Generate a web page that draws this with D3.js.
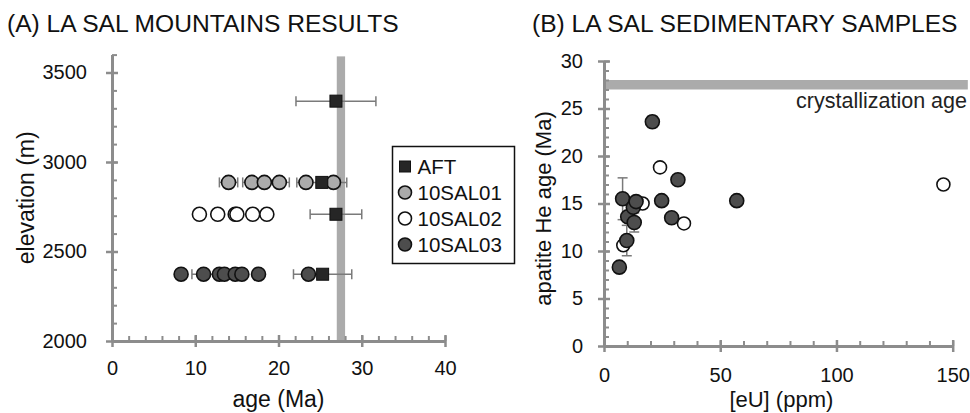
<!DOCTYPE html>
<html>
<head>
<meta charset="utf-8">
<script src="https://cdn.jsdelivr.net/npm/d3@7"></script>
<style>
  body { margin: 0; background: #fff; }
  svg { font-family: "Liberation Sans", Arial, sans-serif; }
</style>
</head>
<body>
<div id="chart"></div>
<script>
// ---- data (panel A) ----
const aftElev = [3340, 2886, 2708, 2373];
const aftAge = [26.9, 25.2, 26.9, 25.3];
const aftErr = [4.8, 3.0, 3.1, 3.5];

const sal01Elev = 2886;
const sal01Age = [14.0, 16.8, 18.3, 20.1, 23.3, 26.6];
const sal01Err = [1.1, 1.1, 0, 1.2, 0.5, 0.8];

const sal02Elev = 2708;
const sal02Age = [10.5, 12.7, 14.8, 15.0, 16.9, 18.6];

const sal03Elev = 2373;
const sal03Age = [8.3, 11.0, 12.9, 13.5, 14.8, 15.6, 17.6, 23.6];
const sal03Err = [0, 1.4, 0, 0, 0, 0, 0, 0];

const crystAge = [27, 28];

// ---- data (panel B) ----
const darkEU = [6.6, 8.0, 9.8, 10.2, 12.6, 13.0, 13.8, 20.8, 24.8, 29.1, 31.8, 57.1];
const darkHe = [8.3, 15.5, 11.1, 13.6, 14.6, 13.0, 15.2, 23.6, 15.3, 13.5, 17.5, 15.3];
const darkErr = [0, 2.2, 1.6, 0, 0, 1.0, 0, 0.6, 0, 0, 0, 0.5];

const openEU = [8.3, 16.6, 24.1, 34.4, 146];
const openHe = [10.6, 15.0, 18.8, 12.9, 17.0];

const legendLabels = ["AFT", "10SAL01", "10SAL02", "10SAL03"];
const ageTicks = [0, 10, 20, 30, 40];
const elevTicks = [2000, 2500, 3000, 3500];
const euTicks = [0, 50, 100, 150];
const heTicks = [0, 5, 10, 15, 20, 25, 30];

const axisColor = "#8c8c8c";
const errColor = "#7a7a7a";
const fill01 = "#ababab", fill02 = "#ffffff", fill03 = "#4d4d4d", fillAft = "#262626";

const svg = d3.select("#chart").append("svg")
  .attr("width", 970)
  .attr("height", 413);

// titles
svg.append("text").attr("x", 7).attr("y", 32)
  .style("font-size", "24.6px").attr("fill", "#111")
  .text("(A) LA SAL MOUNTAINS RESULTS");
svg.append("text").attr("x", 532).attr("y", 32)
  .style("font-size", "24.6px").attr("fill", "#111")
  .text("(B) LA SAL SEDIMENTARY SAMPLES");

// helper: axes with crossing major ticks and inside minor ticks
function drawAxes(x, y, xMajor, xMinor, yMajor, yMinor, xLabOff, yLabOff) {
  const x0 = x.range()[0], y0 = y.range()[0];

  // minor ticks (inside)
  svg.append("g")
    .attr("transform", `translate(${x0},0)`)
    .call(d3.axisRight(y).tickValues(yMinor).tickSize(5).tickFormat(""))
    .call(g => g.select(".domain").remove())
    .selectAll("line").attr("stroke", axisColor).attr("stroke-width", 2);
  svg.append("g")
    .attr("transform", `translate(0,${y0})`)
    .call(d3.axisTop(x).tickValues(xMinor).tickSize(5).tickFormat(""))
    .call(g => g.select(".domain").remove())
    .selectAll("line").attr("stroke", axisColor).attr("stroke-width", 2);

  // y axis
  const gy = svg.append("g")
    .attr("transform", `translate(${x0},0)`)
    .call(d3.axisLeft(y).tickValues(yMajor).tickFormat(d3.format("d"))
      .tickSize(6).tickSizeOuter(0).tickPadding(yLabOff));
  gy.select(".domain").attr("stroke", axisColor).attr("stroke-width", 3);
  gy.selectAll(".tick line").attr("x1", 6).attr("x2", -6)
    .attr("stroke", axisColor).attr("stroke-width", 2.5);
  gy.selectAll(".tick text").style("font-size", "20px")
    .style("font-family", "Liberation Sans, Arial, sans-serif").attr("fill", "#111");

  // x axis
  const gx = svg.append("g")
    .attr("transform", `translate(0,${y0})`)
    .call(d3.axisBottom(x).tickValues(xMajor).tickFormat(d3.format("d"))
      .tickSize(6).tickSizeOuter(0).tickPadding(xLabOff));
  gx.select(".domain").attr("stroke", axisColor).attr("stroke-width", 3);
  gx.selectAll(".tick line").attr("y1", -6).attr("y2", 6)
    .attr("stroke", axisColor).attr("stroke-width", 2.5);
  gx.selectAll(".tick text").style("font-size", "20px")
    .style("font-family", "Liberation Sans, Arial, sans-serif").attr("fill", "#111");
}

// ================= Panel A =================
const xA = d3.scaleLinear().domain([0, 40]).range([112, 445]);
const yA = d3.scaleLinear().domain([2000, 3600]).range([341, 54.6]);

// crystallization band (vertical)
svg.append("rect")
  .attr("x", xA(crystAge[0]))
  .attr("y", yA(3590))
  .attr("width", xA(crystAge[1]) - xA(crystAge[0]))
  .attr("height", yA(2000) - yA(3590))
  .attr("fill", "#ababab");

drawAxes(xA, yA, ageTicks, d3.range(0, 41, 2), elevTicks, d3.range(2000, 3601, 100), 14, 19);

// axis labels
svg.append("text").attr("x", (xA(0) + xA(40)) / 2).attr("y", 407)
  .attr("text-anchor", "middle").style("font-size", "23px").attr("fill", "#111")
  .text("age (Ma)");
svg.append("text")
  .attr("transform", `translate(34,${(yA(2000) + yA(3600)) / 2}) rotate(-90)`)
  .attr("text-anchor", "middle").style("font-size", "23px").attr("fill", "#111")
  .text("elevation (m)");

// horizontal error bars
function hErr(age, elev, err) {
  if (!err) return;
  const g = svg.append("g").attr("stroke", errColor).attr("stroke-width", 1.5);
  const yy = yA(elev);
  g.append("line").attr("x1", xA(age - err)).attr("x2", xA(age + err)).attr("y1", yy).attr("y2", yy);
  [age - err, age + err].forEach(v => {
    g.append("line").attr("x1", xA(v)).attr("x2", xA(v)).attr("y1", yy - 5).attr("y2", yy + 5);
  });
}
sal01Age.forEach((a, i) => hErr(a, sal01Elev, sal01Err[i]));
sal03Age.forEach((a, i) => hErr(a, sal03Elev, sal03Err[i]));
aftAge.forEach((a, i) => hErr(a, aftElev[i], aftErr[i]));

function circlesA(ages, elev, fill) {
  svg.append("g").selectAll("circle")
    .data(ages)
    .join("circle")
    .attr("cx", d => xA(d))
    .attr("cy", yA(elev))
    .attr("r", 7)
    .attr("fill", fill)
    .attr("stroke", "#111")
    .attr("stroke-width", 1.6);
}
circlesA(sal02Age, sal02Elev, fill02);
circlesA(sal01Age, sal01Elev, fill01);
circlesA(sal03Age, sal03Elev, fill03);

svg.append("g").selectAll("rect")
  .data(aftAge)
  .join("rect")
  .attr("x", d => xA(d) - 6)
  .attr("y", (d, i) => yA(aftElev[i]) - 6)
  .attr("width", 12)
  .attr("height", 12)
  .attr("fill", fillAft)
  .attr("stroke", "#111")
  .attr("stroke-width", 1);

// legend
const legend = svg.append("g").attr("transform", "translate(392.5,146.5)");
legend.append("rect")
  .attr("width", 122).attr("height", 117)
  .attr("fill", "#fff").attr("stroke", "#111").attr("stroke-width", 1.5);
const legendFills = [fillAft, fill01, fill02, fill03];
legendLabels.forEach((lab, i) => {
  const cy = 20 + i * 26;
  if (i === 0) {
    legend.append("rect").attr("x", 7).attr("y", cy - 5.5).attr("width", 11).attr("height", 11)
      .attr("fill", fillAft).attr("stroke", "#111").attr("stroke-width", 1);
  } else {
    legend.append("circle").attr("cx", 12.5).attr("cy", cy).attr("r", 6.5)
      .attr("fill", legendFills[i]).attr("stroke", "#111").attr("stroke-width", 1.6);
  }
  legend.append("text").attr("x", 25).attr("y", cy + 7.5)
    .style("font-size", "20.5px").attr("fill", "#111").text(lab);
});

// ================= Panel B =================
const xB = d3.scaleLinear().domain([0, 150]).range([604, 952.7]);
const yB = d3.scaleLinear().domain([0, 30]).range([346, 61]);

// crystallization band (horizontal)
svg.append("rect")
  .attr("x", xB(0))
  .attr("y", yB(crystAge[1]))
  .attr("width", xB(156.5) - xB(0))
  .attr("height", yB(crystAge[0]) - yB(crystAge[1]))
  .attr("fill", "#ababab");

svg.append("text").attr("x", 967).attr("y", 108)
  .attr("text-anchor", "end").style("font-size", "21.5px").attr("fill", "#222")
  .text("crystallization age");

drawAxes(xB, yB, euTicks, d3.range(0, 151, 10), heTicks, d3.range(0, 31, 1), 16, 15);

svg.append("text").attr("x", (xB(0) + xB(150)) / 2 + 3).attr("y", 407)
  .attr("text-anchor", "middle").style("font-size", "22px").attr("fill", "#111")
  .text("[eU] (ppm)");
svg.append("text")
  .attr("transform", `translate(551,${(yB(0) + yB(30)) / 2 + 5}) rotate(-90)`)
  .attr("text-anchor", "middle").style("font-size", "22px").attr("fill", "#111")
  .text("apatite He age (Ma)");

// vertical error bars
const errB = svg.append("g").attr("stroke", errColor).attr("stroke-width", 1.5);
darkEU.forEach((e, i) => {
  const err = darkErr[i];
  if (!err) return;
  const xx = xB(e);
  errB.append("line").attr("x1", xx).attr("x2", xx)
    .attr("y1", yB(darkHe[i] - err)).attr("y2", yB(darkHe[i] + err));
  [darkHe[i] - err, darkHe[i] + err].forEach(v => {
    errB.append("line").attr("x1", xx - 5).attr("x2", xx + 5).attr("y1", yB(v)).attr("y2", yB(v));
  });
});

svg.append("g").selectAll("circle")
  .data(openEU)
  .join("circle")
  .attr("cx", d => xB(d))
  .attr("cy", (d, i) => yB(openHe[i]))
  .attr("r", 6.5)
  .attr("fill", "#fff")
  .attr("stroke", "#111")
  .attr("stroke-width", 1.6);

svg.append("g").selectAll("circle")
  .data(darkEU)
  .join("circle")
  .attr("cx", d => xB(d))
  .attr("cy", (d, i) => yB(darkHe[i]))
  .attr("r", 7)
  .attr("fill", fill03)
  .attr("stroke", "#111")
  .attr("stroke-width", 1.6);
</script>
</body>
</html>
